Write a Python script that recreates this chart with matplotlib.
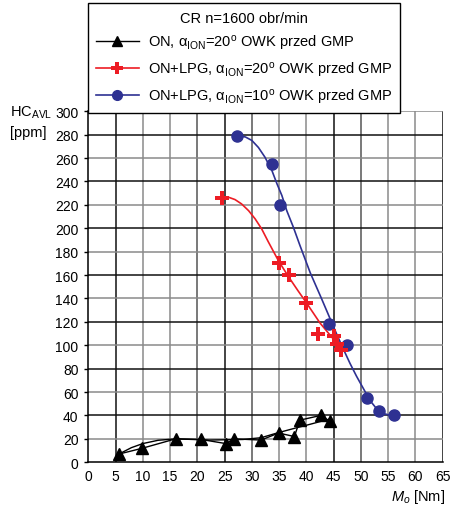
import numpy as np
import matplotlib
matplotlib.use("Agg")
import matplotlib.pyplot as plt

plt.rcParams['font.family'] = ['Liberation Sans', 'DejaVu Sans']
plt.rcParams['mathtext.fontset'] = 'custom'
plt.rcParams['mathtext.rm'] = 'Liberation Sans'
plt.rcParams['mathtext.it'] = 'Liberation Sans:italic'

# ON, alfa 20 - punkty pomiarowe
on_x = [5.6, 9.9, 16.0, 20.7, 25.2, 26.8, 31.7, 34.9, 37.8, 38.8, 42.6, 44.3]
on_y = [7, 12, 20, 19.5, 16, 20, 19, 25, 22, 36, 40, 35]
# linia trendu ON
on_trend_x = [5.6, 7.9, 10.0, 12.8, 16.0, 22.3, 28.4, 31.7, 34.6, 37.8, 40.7, 44.3]
on_trend_y = [7, 12.5, 16, 18.8, 20, 19, 19.5, 21, 25, 29, 32.5, 37]

# ON+LPG, alfa 20
lpg20_x = [24.5, 34.9, 36.8, 39.9, 42.2, 45.0, 45.6, 46.4]
lpg20_y = [226, 170, 160, 136, 110, 108, 101, 96]
lpg20_fit_x = [24.5, 25.7, 26.9, 28.1, 29.4, 30.6, 31.8, 33.0, 34.9, 36.8,
               38.4, 39.9, 42.5, 45.0, 46.7]
lpg20_fit_y = [227, 226.5, 224.5, 220.8, 215, 208, 199.4, 188.5, 172, 158,
               147, 137, 119, 105, 97]

# ON+LPG, alfa 10
lpg10_x = [27.3, 33.7, 35.2, 44.2, 47.5, 51.1, 53.3, 56.1]
lpg10_y = [279, 255, 220, 118, 100, 55, 44, 40]
lpg10_fit_x = [27.4, 28.8, 30.0, 31.2, 32.4, 33.7, 34.6, 35.5, 36.4, 37.6,
               38.8, 40.7, 42.8, 45.6, 46.8, 48.0, 49.2, 50.5, 51.7, 52.9,
               54.4, 56.0]
lpg10_fit_y = [279, 278, 275, 269, 260.7, 249, 238, 228, 215, 201,
               185.5, 162, 139.6, 109, 96.5, 84.5, 73.5, 62.6, 52.6, 45.6,
               41.3, 39.5]

x_ticks = list(range(0, 70, 5))
y_ticks = list(range(0, 320, 20))

red = '#ed1c24'
blue = '#2e3192'

fig = plt.figure(figsize=(4.52, 5.10), dpi=100)
ax = fig.add_axes([0.1954, 0.0916, 0.7840, 0.6884])

# siatka
for xv in x_ticks[1:]:
    if xv in (5, 25, 45, 65):
        c = '#111111'
    elif xv in (20, 30, 50):
        c = '#555555'
    else:
        c = '#8a8a8a'
    ax.axvline(xv, color=c, lw=1.1, zorder=1)
for yv in y_ticks[1:]:
    c = '#111111' if yv % 40 == 0 else '#8a8a8a'
    ax.axhline(yv, color=c, lw=1.1, zorder=1)

ax.plot(on_trend_x, on_trend_y, color='black', lw=1.0, zorder=3)
ax.plot(on_x, on_y, color='black', lw=1.0, zorder=3)
ax.plot(on_x, on_y, '^', color='black', ms=8, zorder=4)

ax.plot(lpg20_fit_x, lpg20_fit_y, color=red, lw=1.2, zorder=3,
        solid_joinstyle='round')
ax.plot(lpg20_x, lpg20_y, 'P', color=red, ms=9.5, mew=0, zorder=5)

ax.plot(lpg10_fit_x, lpg10_fit_y, color=blue, lw=1.2, zorder=3,
        solid_joinstyle='round')
ax.plot(lpg10_x, lpg10_y, 'o', color=blue, ms=8, zorder=4)

ax.set_xlim(0, 65)
ax.set_ylim(0, 300)
ax.set_xticks(x_ticks)
ax.set_yticks(y_ticks)
ax.tick_params(axis='x', length=0, pad=5, labelsize=10)
ax.tick_params(axis='y', length=3, width=1, pad=4, labelsize=10)
for s in ['top', 'right']:
    ax.spines[s].set_visible(False)
ax.spines['left'].set_linewidth(1.1)
ax.spines['bottom'].set_linewidth(1.1)

# legenda
h1, = ax.plot([], [], '-^', color='black', ms=7, lw=1.0)
h2, = ax.plot([], [], '-P', color=red, ms=8, mew=0, lw=1.2)
h3, = ax.plot([], [], '-o', color=blue, ms=7, lw=1.2)
labels = ['ON, α$_{\\rm ION}$=20$^{\\rm o}$ OWK przed GMP',
          'ON+LPG, α$_{\\rm ION}$=20$^{\\rm o}$ OWK przed GMP',
          'ON+LPG, α$_{\\rm ION}$=10$^{\\rm o}$ OWK przed GMP']
leg = ax.legend([h1, h2, h3], labels, title='CR n=1600 obr/min',
                loc='lower left', bbox_to_anchor=(0.0, 0.995),
                fontsize=10.5, title_fontsize=10.5, frameon=True,
                fancybox=False, edgecolor='black', framealpha=1,
                handlelength=3.0, handletextpad=0.6, borderpad=0.5,
                labelspacing=0.55, borderaxespad=0)
leg.get_frame().set_linewidth(1.0)

fig.text(0.022, 0.760, 'HC$_{\\rm AVL}$\n[ppm]', fontsize=10.5,
         ha='left', va='center', linespacing=1.4)
fig.text(0.985, 0.018, '$M_{o}$ [Nm]', fontsize=10.5, ha='right', va='baseline')

fig.savefig('out.png', dpi=100)
